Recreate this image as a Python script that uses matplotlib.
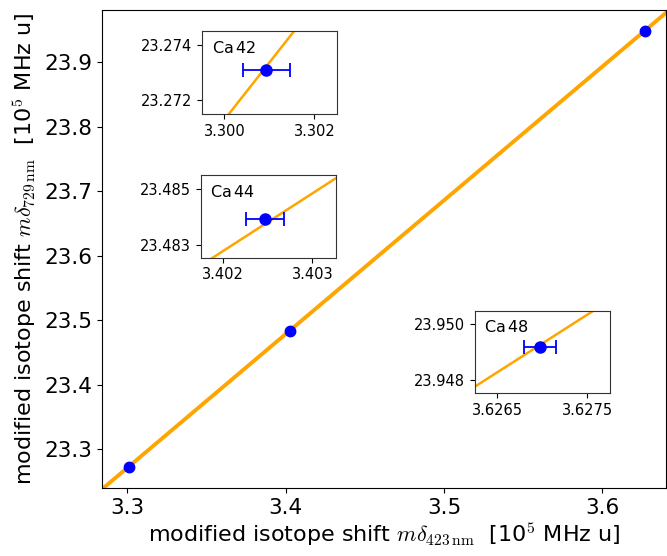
import numpy as np
import matplotlib
matplotlib.use("Agg")
import matplotlib.pyplot as plt

plt.rcParams["font.family"] = ["DejaVu Sans"]
plt.rcParams["mathtext.fontset"] = "cm"

# --- data (10^5 MHz u) ---
isotopes = ["Ca$\\,$42", "Ca$\\,$44", "Ca$\\,$48"]
md423 = [3.30093, 3.40247, 3.62697]
md729 = [23.27309, 23.48393, 23.94920]
md423_err = [0.00052, 0.000215, 0.000176]

# inset ranges and ticks
inset_xlims = [(3.29951, 3.30251), (3.40175, 3.40326), (3.62625, 3.62775)]
inset_ylims = [(23.27148, 23.27450), (23.48254, 23.48551), (23.94752, 23.95048)]
inset_xticks = [[3.300, 3.302], [3.402, 3.403], [3.6265, 3.6275]]
inset_yticks = [[23.272, 23.274], [23.483, 23.485], [23.948, 23.950]]
inset_xfmt = ["{:.3f}", "{:.3f}", "{:.4f}"]
inset_rects = [
    [0.3033, 0.7944, 0.2024, 0.1498],
    [0.3009, 0.5365, 0.2024, 0.1487],
    [0.7121, 0.2926, 0.2024, 0.1480],
]

main_xlim = (3.2838, 3.6402)
main_ylim = (23.2395, 23.981)

# linear fit (King plot)
slope, intercept = np.polyfit(md423, md729, 1)

fig = plt.figure(figsize=(6.67, 5.56), dpi=100)
ax = fig.add_axes([0.1525, 0.1218, 0.846, 0.8602])

xx = np.linspace(main_xlim[0] - 0.01, main_xlim[1] + 0.01, 50)
ax.plot(xx, slope * xx + intercept, color="orange", lw=2.8, zorder=1)
ax.plot(md423, md729, "o", color="blue", ms=7.5, zorder=3)
ax.set_xlim(*main_xlim)
ax.set_ylim(*main_ylim)
ax.set_xticks([3.3, 3.4, 3.5, 3.6])
ax.set_yticks([23.3, 23.4, 23.5, 23.6, 23.7, 23.8, 23.9])
ax.tick_params(labelsize=15.5)
ax.set_xlabel(r"modified isotope shift $m\delta_{423\,\mathrm{nm}}$  [10$^{\mathsf{5}}$ MHz u]",
              fontsize=16, labelpad=2)
ax.set_ylabel(r"modified isotope shift $m\delta_{729\,\mathrm{nm}}$  [10$^{\mathsf{5}}$ MHz u]",
              fontsize=16, labelpad=4)

# --- insets ---
for i in range(3):
    ia = fig.add_axes(inset_rects[i])
    x0, x1 = inset_xlims[i]
    xi = np.linspace(x0 - 0.001, x1 + 0.001, 20)
    ia.plot(xi, slope * xi + intercept, color="orange", lw=1.8, zorder=1)
    ia.errorbar(md423[i], md729[i], xerr=md423_err[i], fmt="o", color="blue",
                ms=8, capsize=5, elinewidth=1.3, capthick=1.3, zorder=3)
    ia.set_xlim(*inset_xlims[i])
    ia.set_ylim(*inset_ylims[i])
    ia.set_xticks(inset_xticks[i])
    ia.set_xticklabels([inset_xfmt[i].format(v) for v in inset_xticks[i]])
    ia.set_yticks(inset_yticks[i])
    ia.set_yticklabels(["{:.3f}".format(v) for v in inset_yticks[i]])
    ia.tick_params(labelsize=10.5)
    for s in ia.spines.values():
        s.set_color("#333333")
    ia.text(0.07, 0.8, isotopes[i], transform=ia.transAxes,
            ha="left", va="center", fontsize=11.5)

fig.savefig("out.png", dpi=100)
